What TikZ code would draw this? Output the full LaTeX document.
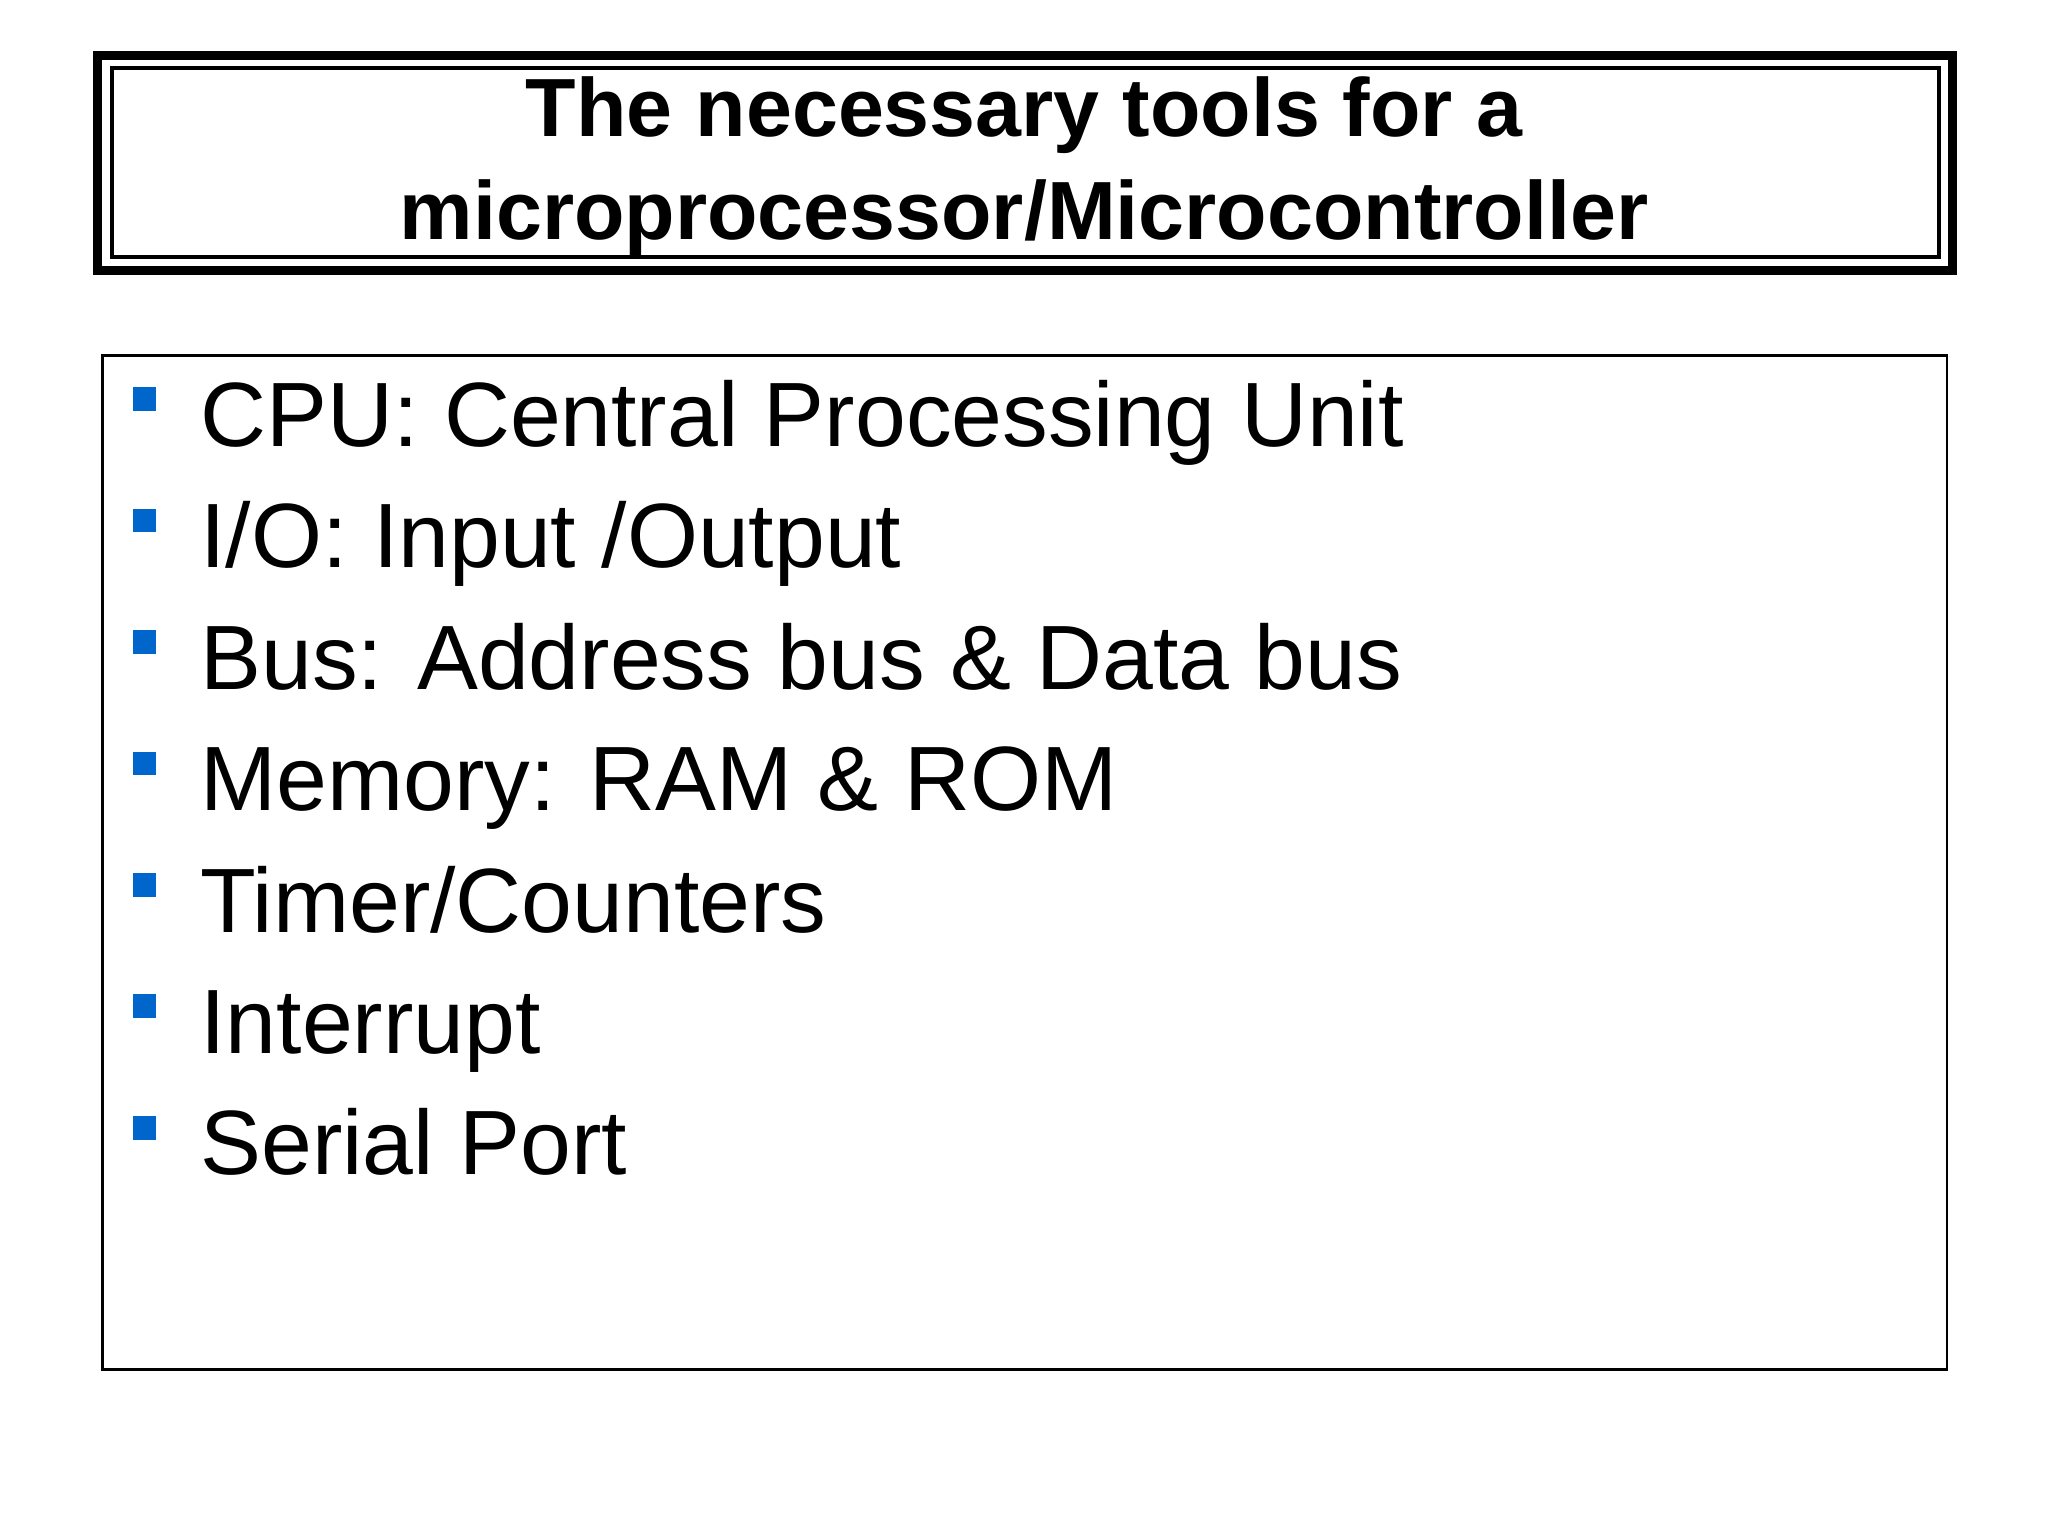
\documentclass[tikz,border=0pt]{standalone}
\usepackage{fontspec}
\setmainfont{Liberation Sans}
\usetikzlibrary{positioning}
\definecolor{bulletblue}{RGB}{0,102,204}
\tikzstyle{item} = [anchor=base west, inner sep=0pt, font=\fontsize{19.8}{24}\selectfont]
\tikzstyle{bullet} = [rectangle, minimum size=0.18cm, inner sep=0pt, fill=bulletblue]
\tikzstyle{heading} = [align=center, font=\fontsize{17.9}{22.5}\selectfont\bfseries]
\begin{document}
\begin{tikzpicture}
\useasboundingbox (0,0) rectangle (15.6,-11.7);
\fill[white] (0,0) rectangle (15.6,-11.7);
% title frame
\draw[line width=2pt] (0.74,-0.42) rectangle (14.87,-2.06);
\draw[line width=0.9pt] (0.85,-0.52) rectangle (14.77,-1.96);
\node(title)[heading] at (7.8,-1.27){The necessary tools for a\\microprocessor/Microcontroller};
% content frame
\draw[line width=0.6pt] (0.78,-2.71) rectangle (14.83,-10.43);
\node(cpu)[item] at (1.52,-3.40){CPU: Central Processing Unit};
\node(io)[item] at (1.52,-4.325){I/O: Input /Output};
\node(bus)[item] at (1.52,-5.25){Bus: Address bus \& Data bus};
\node(mem)[item] at (1.52,-6.175){Memory: RAM \& ROM};
\node(timer)[item] at (1.52,-7.10){Timer/Counters};
\node(intr)[item] at (1.52,-8.025){Interrupt};
\node(serial)[item] at (1.52,-8.95){Serial Port};
\node(b1)[bullet] at (1.1,-3.04){};
\node(b2)[bullet] at (1.1,-3.965){};
\node(b3)[bullet] at (1.1,-4.89){};
\node(b4)[bullet] at (1.1,-5.815){};
\node(b5)[bullet] at (1.1,-6.74){};
\node(b6)[bullet] at (1.1,-7.665){};
\node(b7)[bullet] at (1.1,-8.59){};
\end{tikzpicture}
\end{document}
